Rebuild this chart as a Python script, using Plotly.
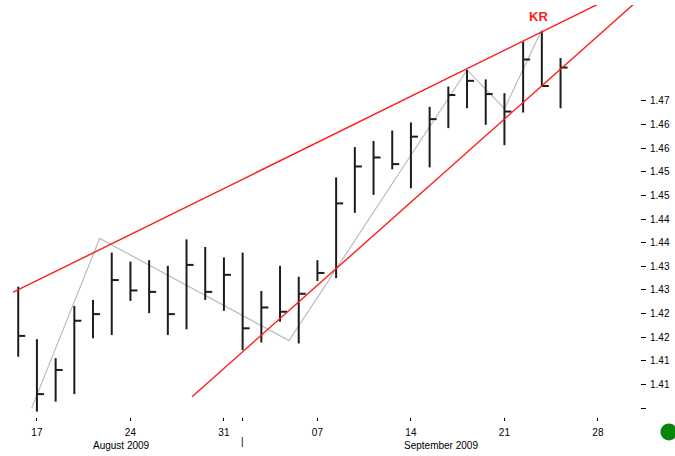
import plotly.graph_objects as go
import pandas as pd

# ---------------- data ----------------
dates = ["2009-08-14", "2009-08-17", "2009-08-18", "2009-08-19", "2009-08-20", "2009-08-21",
         "2009-08-24", "2009-08-25", "2009-08-26", "2009-08-27", "2009-08-28",
         "2009-08-31", "2009-09-01", "2009-09-02", "2009-09-03", "2009-09-04",
         "2009-09-07", "2009-09-08", "2009-09-09", "2009-09-10", "2009-09-11",
         "2009-09-14", "2009-09-15", "2009-09-16", "2009-09-17", "2009-09-18",
         "2009-09-21", "2009-09-22", "2009-09-23", "2009-09-24"]
highs = [1.4307, 1.4196, 1.4156, 1.4266, 1.4279, 1.4379,
         1.4360, 1.4363, 1.4351, 1.4407, 1.4391,
         1.4369, 1.4379, 1.4298, 1.4351, 1.4328,
         1.4363, 1.4538, 1.4602, 1.4615, 1.4637,
         1.4654, 1.4687, 1.4730, 1.4765, 1.4745,
         1.4716, 1.4825, 1.4846, 1.4790]
lows = [1.4159, 1.4043, 1.4064, 1.4080, 1.4198, 1.4205,
        1.4277, 1.4251, 1.4205, 1.4217, 1.4279,
        1.4256, 1.4173, 1.4189, 1.4233, 1.4187,
        1.4319, 1.4325, 1.4463, 1.4501, 1.4555,
        1.4515, 1.4559, 1.4642, 1.4684, 1.4649,
        1.4606, 1.4675, 1.4731, 1.4684]
closes = [1.4203, 1.4080, 1.4131, 1.4235, 1.4249, 1.4321,
          1.4299, 1.4296, 1.4249, 1.4353, 1.4296,
          1.4332, 1.4219, 1.4263, 1.4254, 1.4292,
          1.4336, 1.4483, 1.4561, 1.4580, 1.4566,
          1.4624, 1.4661, 1.4712, 1.4742, 1.4714,
          1.4677, 1.4787, 1.4731, 1.4770]

# pattern line (grey)
pattern_x = ["2009-08-14 17:08", "2009-08-20 08:31", "2009-09-03 11:31",
             "2009-09-17 00:00", "2009-09-21 00:00", "2009-09-23 00:00"]
pattern_y = [1.4050, 1.4409, 1.4193, 1.4765, 1.4683, 1.4850]

# trend lines (red)
upper_x = ["2009-08-13 17:00", "2009-09-30 00:00"]
upper_y = [1.42947, 1.49428]
lower_x = ["2009-08-27 07:06", "2009-09-30 00:00"]
lower_y = [1.40745, 1.49071]

ytick_vals = [1.405, 1.410, 1.415, 1.420, 1.425, 1.430, 1.435, 1.440,
              1.445, 1.450, 1.455, 1.460, 1.465, 1.470]
ytick_text = ["", "1.41", "1.41", "1.42", "1.42", "1.43", "1.43", "1.44",
              "1.44", "1.45", "1.45", "1.46", "1.46", "1.47"]
xtick_vals = ["2009-08-17", "2009-08-24", "2009-08-31", "2009-09-01",
              "2009-09-07", "2009-09-14", "2009-09-21", "2009-09-28"]
xtick_text = ["17", "24", "31", "", "07", "14", "21", "28"]
month_labels = ["August 2009", "September 2009"]
month_pos = ["2009-08-21 12:00", "2009-09-15 15:00"]

# ---------------- build bar geometry from data ----------------
tick_off = pd.Timedelta(hours=9)
bx, by = [], []
for d, h, l, c in zip(dates, highs, lows, closes):
    t = pd.Timestamp(d)
    bx += [t, t, None, t, t + tick_off, None]
    by += [l, h, None, c, c, None]

fig = go.Figure()
fig.add_trace(go.Scatter(x=pattern_x, y=pattern_y, mode="lines",
                         line=dict(color="#bdbdbd", width=1.2), hoverinfo="skip"))
fig.add_trace(go.Scatter(x=bx, y=by, mode="lines",
                         line=dict(color="#1c1c1c", width=2), hoverinfo="skip"))
fig.add_trace(go.Scatter(x=upper_x, y=upper_y, mode="lines",
                         line=dict(color="#ff1a1a", width=1.4), hoverinfo="skip"))
fig.add_trace(go.Scatter(x=lower_x, y=lower_y, mode="lines",
                         line=dict(color="#ff1a1a", width=1.4), hoverinfo="skip"))

font = "Liberation Sans"
fig.update_layout(
    width=675, height=456,
    margin=dict(l=13, r=33, t=5, b=39),
    paper_bgcolor="white", plot_bgcolor="white",
    showlegend=False,
    font=dict(family=font, size=10, color="black"),
    xaxis=dict(
        range=["2009-08-13 17:17", "2009-09-30 06:00"],
        rangebreaks=[dict(bounds=["sat", "mon"])],
        tickvals=xtick_vals, ticktext=xtick_text,
        ticks="outside", ticklen=3, tickcolor="black", tickwidth=1,
        ticklabelstandoff=3,
        showgrid=False, zeroline=False, showline=False,
        tickfont=dict(family=font, size=10, color="black"),
    ),
    yaxis=dict(
        range=[1.40316, 1.49022], side="right",
        tickvals=ytick_vals, ticktext=ytick_text,
        ticks="outside", ticklen=5, tickcolor="black", tickwidth=1,
        ticklabelstandoff=2,
        showgrid=False, zeroline=False, showline=False,
        tickfont=dict(family=font, size=10, color="black"),
    ),
)

annotations = [
    dict(x="2009-09-22 19:30", y=1.48779, xref="x", yref="y", text="<b>KR</b>",
         showarrow=False, font=dict(family=font, size=13, color="#ff1a1a"),
         xanchor="center", yanchor="middle"),
    dict(x="2009-09-01", y=-0.0583, xref="x", yref="paper", text="|",
         showarrow=False, font=dict(family=font, size=10, color="black"),
         xanchor="center", yanchor="middle"),
]
for lab, pos in zip(month_labels, month_pos):
    annotations.append(dict(x=pos, y=-0.068, xref="x", yref="paper", text=lab,
                            showarrow=False, font=dict(family=font, size=10, color="black"),
                            xanchor="center", yanchor="middle"))
fig.update_layout(annotations=annotations)

fig.add_shape(type="circle", xref="paper", yref="paper",
              xsizemode="pixel", ysizemode="pixel",
              xanchor=1.0461, yanchor=-0.0364,
              x0=-8.5, x1=8.5, y0=-8.5, y1=8.5,
              fillcolor="#0a850a", line=dict(width=0))

fig.write_html("out.html", config={"displayModeBar": False},
               post_script="document.body.style.margin='0px';document.body.style.overflow='hidden';")
